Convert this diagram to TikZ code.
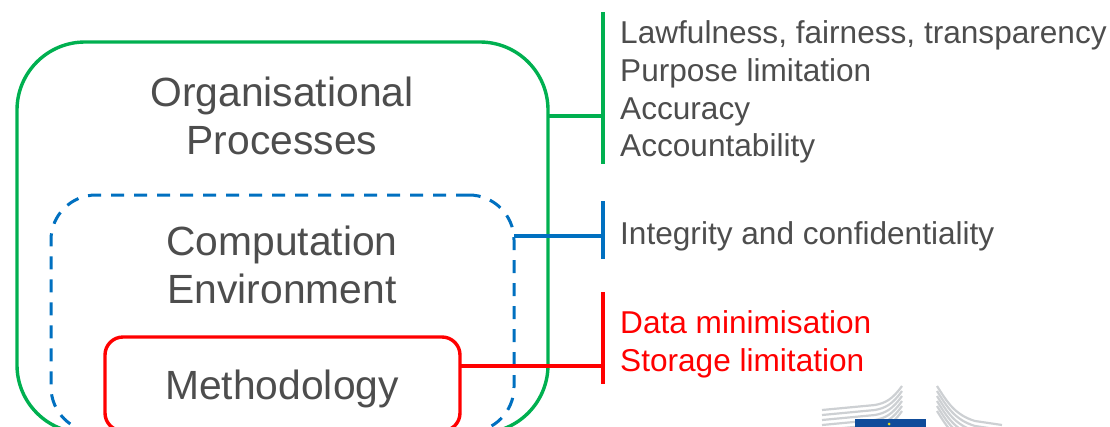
\documentclass[tikz,border=0pt]{standalone}
\usepackage{fontspec}
\setmainfont{Liberation Sans}
\definecolor{darkgreen}{HTML}{00B050}
\definecolor{darkblue}{HTML}{0070C0}
\definecolor{textgrey}{HTML}{4D4D4D}
\definecolor{flagblue}{HTML}{0F4C9A}
\definecolor{logogrey}{HTML}{CDD0D3}
\tikzset{
  areabox/.style={draw, line width=3.4pt, anchor=north west, inner sep=0pt, outer sep=0pt},
  bigtext/.style={text=textgrey, font=\fontsize{40.8}{48}\selectfont, align=center, inner sep=0pt},
  listtext/.style={text=textgrey, font=\fontsize{31.6}{37.7}\selectfont, align=left, inner sep=0pt, anchor=west},
  tie/.style={line width=3.4pt},
  logoline/.style={draw=logogrey, line width=2.2pt}
}
\begin{document}
\begin{tikzpicture}[x=1pt,y=-1pt]
  \useasboundingbox (0,0) rectangle (1110,426);
  \clip (0,0) rectangle (1110,426);

  % nested areas, bottoms run off the page
  \node[areabox, draw=darkgreen, rounded corners=68pt, minimum width=531pt, minimum height=391pt] (process) at (17,42) {};
  \node[areabox, draw=darkblue, line width=3pt, dash pattern=on 13pt off 10pt, rounded corners=45pt, minimum width=463pt, minimum height=237pt] (compute) at (51,195) {};
  \node[areabox, draw=red, rounded corners=18pt, minimum width=355pt, minimum height=94pt] (method) at (105,337) {};

  \node[bigtext] (processtext) at (282,116) {Organisational\\Processes};
  \node[bigtext] (computetext) at (282,265) {Computation\\Environment};
  \node[bigtext] (methodtext) at (282,389) {Methodology};

  % bars on the right
  \coordinate (greenbar) at (603,116);
  \coordinate (bluebar) at (603,236);
  \coordinate (redbar) at (603,366);

  \draw[tie, darkgreen] (603,12)--(603,164);
  \draw[tie, darkblue] (603,201)--(603,259);
  \draw[tie, red] (603,292)--(603,384);

  \draw[tie, darkgreen] (process.east |- greenbar)--(greenbar);
  \draw[tie, darkblue] (compute.east |- bluebar)--(bluebar);
  \draw[tie, red] (method.east |- redbar)--(redbar);

  \node[listtext] (greenlist) at (620,92) {Lawfulness, fairness, transparency\\Purpose limitation\\Accuracy\\Accountability};
  \node[listtext] (bluelist) at (620,236) {Integrity and confidentiality};
  \node[listtext, text=red] (redlist) at (620,344) {Data minimisation\\Storage limitation};

  % logo, cut by the page edge
  \foreach \d in {0,5,10,15,20,25}{
    \draw[logoline] (902,386+\d) .. controls (892,400+\d) and (885,403+\d) .. (875,405+\d) -- (822,410+\d);
    \draw[logoline] (937,386+\d) .. controls (947,402+\d) and (955,415+\d) .. (975,421+\d) -- (1002,425+\d);
  }
  \fill[flagblue] (855,419) rectangle (926,427);
  \fill[yellow!90!black] (889,424) circle (1.5pt);
\end{tikzpicture}
\end{document}
